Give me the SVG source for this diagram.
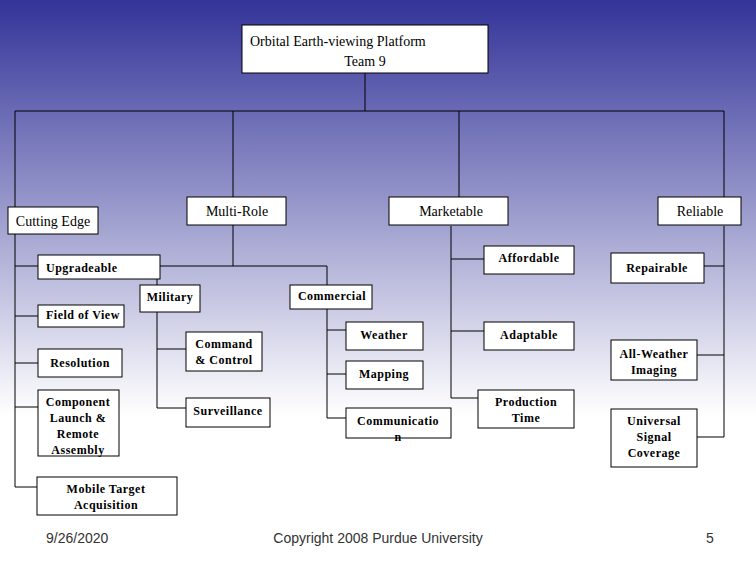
<svg xmlns="http://www.w3.org/2000/svg" width="756" height="576" viewBox="0 0 756 576">
<defs><linearGradient id="bg" x1="0" y1="0" x2="0" y2="1"><stop offset="0" stop-color="#333399"/><stop offset="0.72" stop-color="#ffffff"/><stop offset="1" stop-color="#ffffff"/></linearGradient></defs>
<style>
rect{fill:#fff;stroke:#000;stroke-width:1}
.c path{fill:none;stroke:#000;stroke-width:1}
text{font-family:"Liberation Serif",serif;fill:#000}
.t{font-size:14px}
.b{font-size:12px;font-weight:bold;letter-spacing:0.5px}
.f{font-family:"Liberation Sans",sans-serif;font-size:14px;fill:#333}
</style>
<rect x="0" y="0" width="756" height="576" style="fill:url(#bg);stroke:none"/>
<g class="c">
<path d="M365 73V111M15 111H724M15 111V487M233 111V197M459 111V197M724 111V197"/>
<path d="M15 266H38M15 316H38M15 363H38M15 407H38M15 487H37"/>
<path d="M233 225V266M157 266H327M157 266V408M327 266V418M157 349H186M157 408H186M327 330H346M327 374H346M327 418H346"/>
<path d="M451 226V398M451 259H484M451 331H484M451 398H478"/>
<path d="M724 226V437M704 266H724M697 355H724M697 437H724"/>
</g>
<g id="root"><rect x="242" y="25" width="246" height="48"/><text class="t" x="250" y="46">Orbital Earth-viewing Platform</text><text class="t" x="365" y="66" text-anchor="middle">Team 9</text></g>
<g id="cutting"><rect x="8" y="207" width="90" height="27"/><text class="t" x="53" y="226" text-anchor="middle">Cutting Edge</text></g>
<g id="multirole"><rect x="187" y="197" width="99" height="28"/><text class="t" x="237" y="216" text-anchor="middle">Multi-Role</text></g>
<g id="marketable"><rect x="389" y="197" width="119" height="28"/><text class="t" x="451" y="216" text-anchor="middle">Marketable</text></g>
<g id="reliable"><rect x="658" y="197" width="83" height="28"/><text class="t" x="700" y="216" text-anchor="middle">Reliable</text></g>
<g id="upgradeable"><rect x="38" y="255" width="122" height="24"/><text class="b" x="46" y="272">Upgradeable</text></g>
<g id="fov"><rect x="38" y="305" width="86" height="22"/><text class="b" x="46" y="319">Field of View</text></g>
<g id="resolution"><rect x="38" y="349" width="84" height="28"/><text class="b" x="80" y="367" text-anchor="middle">Resolution</text></g>
<g id="component"><rect x="38" y="390" width="81" height="66"/><text class="b" text-anchor="middle"><tspan x="78" y="406">Component</tspan><tspan x="78" y="422">Launch &amp;</tspan><tspan x="78" y="438">Remote</tspan><tspan x="78" y="454">Assembly</tspan></text></g>
<g id="mobile"><rect x="37" y="477" width="140" height="38"/><text class="b" text-anchor="middle"><tspan x="106" y="493">Mobile Target</tspan><tspan x="106" y="509">Acquisition</tspan></text></g>
<g id="military"><rect x="140" y="285" width="60" height="27"/><text class="b" x="170" y="301" text-anchor="middle">Military</text></g>
<g id="commercial"><rect x="290" y="285" width="82" height="24"/><text class="b" x="332" y="300" text-anchor="middle">Commercial</text></g>
<g id="command"><rect x="186" y="332" width="76" height="39"/><text class="b" text-anchor="middle"><tspan x="224" y="348">Command</tspan><tspan x="224" y="364">&amp; Control</tspan></text></g>
<g id="surveillance"><rect x="186" y="398" width="84" height="29"/><text class="b" x="228" y="415" text-anchor="middle">Surveillance</text></g>
<g id="weather"><rect x="346" y="322" width="77" height="28"/><text class="b" x="384" y="339" text-anchor="middle">Weather</text></g>
<g id="mapping"><rect x="346" y="361" width="77" height="28"/><text class="b" x="384" y="378" text-anchor="middle">Mapping</text></g>
<g id="communication"><rect x="346" y="408" width="105" height="30"/><text class="b" text-anchor="middle"><tspan x="398" y="425">Communicatio</tspan><tspan x="398" y="441">n</tspan></text></g>
<g id="affordable"><rect x="484" y="246" width="90" height="28"/><text class="b" x="529" y="262" text-anchor="middle">Affordable</text></g>
<g id="adaptable"><rect x="484" y="322" width="90" height="28"/><text class="b" x="529" y="339" text-anchor="middle">Adaptable</text></g>
<g id="production"><rect x="478" y="390" width="96" height="38"/><text class="b" text-anchor="middle"><tspan x="526" y="406">Production</tspan><tspan x="526" y="422">Time</tspan></text></g>
<g id="repairable"><rect x="611" y="253" width="93" height="30"/><text class="b" x="657" y="272" text-anchor="middle">Repairable</text></g>
<g id="allweather"><rect x="611" y="340" width="86" height="40"/><text class="b" text-anchor="middle"><tspan x="654" y="358">All-Weather</tspan><tspan x="654" y="374">Imaging</tspan></text></g>
<g id="universal"><rect x="611" y="409" width="86" height="58"/><text class="b" text-anchor="middle"><tspan x="654" y="425">Universal</tspan><tspan x="654" y="441">Signal</tspan><tspan x="654" y="457">Coverage</tspan></text></g>
<text class="f" x="46" y="543">9/26/2020</text>
<text class="f" x="378" y="543" text-anchor="middle">Copyright 2008 Purdue University</text>
<text class="f" x="706" y="543">5</text>
</svg>
